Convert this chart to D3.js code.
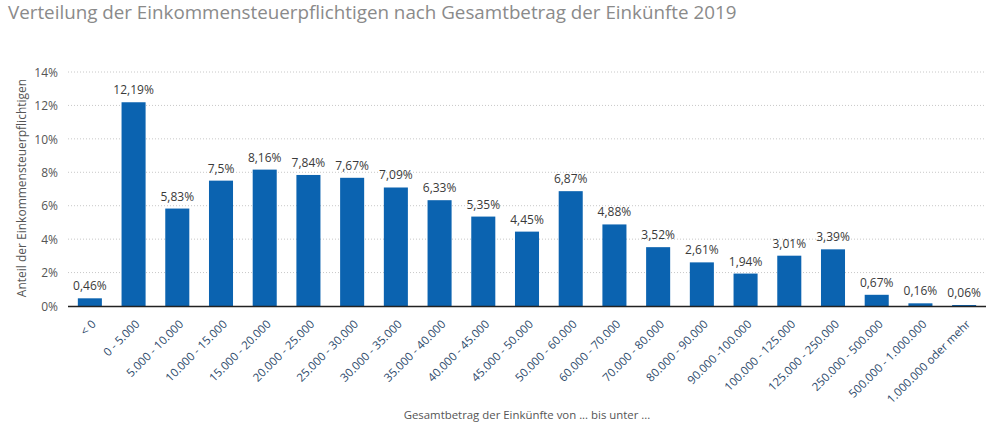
<!DOCTYPE html>
<html><head><meta charset="utf-8">
<script src="https://cdn.jsdelivr.net/npm/d3@7"></script>
<style>body{margin:0;background:#fff;font-family:"Open Sans",sans-serif;}</style>
</head><body>
<svg id="c" width="1000" height="429"></svg>
<script>
const categories = ["< 0","0 - 5.000","5.000 - 10.000","10.000 - 15.000","15.000 - 20.000","20.000 - 25.000","25.000 - 30.000","30.000 - 35.000","35.000 - 40.000","40.000 - 45.000","45.000 - 50.000","50.000 - 60.000","60.000 - 70.000","70.000 - 80.000","80.000 - 90.000","90.000 -100.000","100.000 - 125.000","125.000 - 250.000","250.000 - 500.000","500.000 - 1.000.000","1.000.000 oder mehr"];
const values = [0.46,12.19,5.83,7.5,8.16,7.84,7.67,7.09,6.33,5.35,4.45,6.87,4.88,3.52,2.61,1.94,3.01,3.39,0.67,0.16,0.06];
const yTicks = [0,2,4,6,8,10,12,14];
const title = "Verteilung der Einkommensteuerpflichtigen nach Gesamtbetrag der Einkünfte 2019";
const yTitle = "Anteil der Einkommensteuerpflichtigen";
const xTitle = "Gesamtbetrag der Einkünfte von ... bis unter ...";

const svg = d3.select("#c");
const L=68, R=986, T=72, B=306;
const x = d3.scaleBand().domain(categories).range([L,R]).paddingInner(0.45).paddingOuter(0.225);
const y = d3.scaleLinear().domain([0,14]).range([B,T]);

svg.append("text").attr("x",8).attr("y",19).attr("font-size",18.8).attr("fill","#8a8a8a").text(title);

const g = svg.append("g");
g.selectAll("line.grid").data(yTicks.filter(d=>d>0)).join("line")
 .attr("x1",L).attr("x2",R).attr("y1",d=>y(d)).attr("y2",d=>y(d))
 .attr("stroke","#c8c8c8").attr("stroke-dasharray","1,2");

const yAxis = svg.append("g").attr("transform",`translate(${L-10},0)`)
 .call(d3.axisLeft(y).tickValues(yTicks).tickFormat(d=>d+"%").tickSize(0).tickPadding(0));
yAxis.select(".domain").remove();
yAxis.selectAll("text").attr("font-size",12).attr("fill","#555").attr("font-family","Open Sans").attr("dy","0.35em");

svg.selectAll("rect.bar").data(values).join("rect")
 .attr("x",(d,i)=>x(categories[i])).attr("width",x.bandwidth())
 .attr("y",d=>y(d)).attr("height",d=>B-y(d)).attr("fill","#0b63b0");

svg.selectAll("text.val").data(values).join("text")
 .attr("x",(d,i)=>x(categories[i])+x.bandwidth()/2).attr("y",d=>y(d)-8)
 .attr("text-anchor","middle").attr("font-size",12).attr("fill","#3a3a3a")
 .text(d=>String(d).replace(".",",")+"%");

svg.append("line").attr("x1",L).attr("x2",R).attr("y1",B+0.5).attr("y2",B+0.5).attr("stroke","#222").attr("stroke-width",1.5);

const xAxis = svg.append("g").attr("transform",`translate(0,${B+8})`)
 .call(d3.axisBottom(x).tickSize(0).tickPadding(0));
xAxis.select(".domain").remove();
xAxis.selectAll("text").attr("font-size",11.5).attr("fill","#2d4a6b").attr("font-family","Open Sans")
 .attr("text-anchor","end").attr("dy","0.35em")
 .attr("transform","translate(4,8) rotate(-45)");

svg.append("text").attr("x",527).attr("y",419).attr("text-anchor","middle").attr("font-size",11.4).attr("fill","#555").text(xTitle);
svg.append("text").attr("transform","translate(26,188) rotate(-90)").attr("text-anchor","middle").attr("font-size",12).attr("fill","#555").text(yTitle);
</script>
</body></html>
